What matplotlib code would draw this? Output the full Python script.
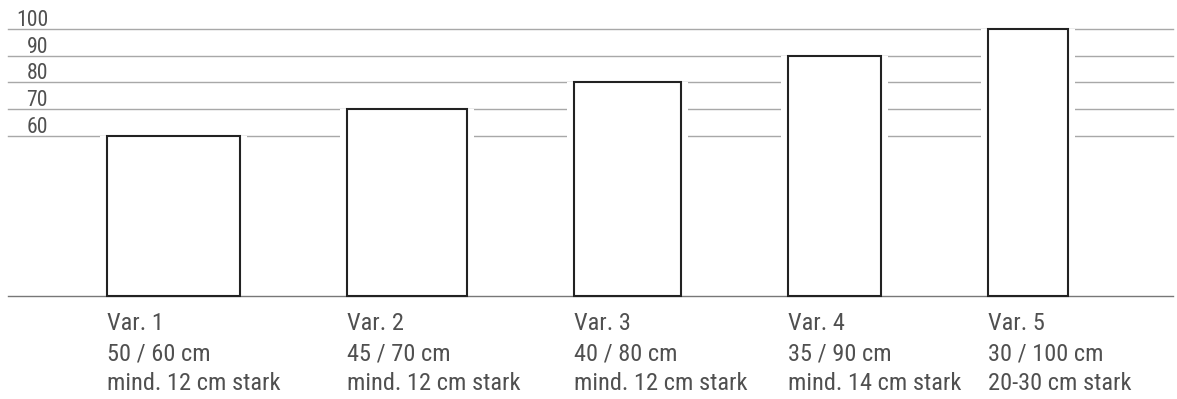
import matplotlib.pyplot as plt
from matplotlib.patches import Rectangle

# Querschnitte: Breite / Höhe in cm
varianten = ['Var. 1', 'Var. 2', 'Var. 3', 'Var. 4', 'Var. 5']
breite = [50, 45, 40, 35, 30]
hoehe = [60, 70, 80, 90, 100]
staerke = ['mind. 12 cm stark', 'mind. 12 cm stark', 'mind. 12 cm stark',
           'mind. 14 cm stark', '20-30 cm stark']
ticks = [60, 70, 80, 90, 100]

plt.rcParams['font.family'] = ['Roboto Condensed', 'Liberation Sans Narrow',
                               'Roboto', 'DejaVu Sans']
textfarbe = '#505050'

px = 2.67  # Pixel pro cm
W, H = 1177, 399
fig = plt.figure(figsize=(W / 100, H / 100), dpi=100)
ax = fig.add_axes([0, 0, 1, 1])
ax.set_xlim(0, W / px)
ax.set_ylim(-103 / px, (H - 103) / px)
ax.axis('off')

abstand = 40
pad = 2.6
fs = 17.6

# Gitterlinien
for t in ticks:
    ax.plot([3, 439.3], [t, t], color='#a8a8a8', lw=1.0, zorder=1)
    ax.text(18, t + 1.1, str(t), ha='right', va='baseline',
            fontsize=15.7, color=textfarbe)

x = abstand
for name, b, h, s in zip(varianten, breite, hoehe, staerke):
    ax.add_patch(Rectangle((x - pad, 0), b + 2 * pad, h, facecolor='white',
                           edgecolor='none', zorder=2))
    ax.add_patch(Rectangle((x, 0), b, h, facecolor='white',
                           edgecolor='#222222', lw=1.5, zorder=4))
    ax.text(x, -12.7, name, ha='left', va='baseline', fontsize=fs, color=textfarbe)
    ax.text(x, -24.0, f'{b} / {h} cm', ha='left', va='baseline', fontsize=fs,
            color=textfarbe)
    ax.text(x, -35.2, s, ha='left', va='baseline', fontsize=fs, color=textfarbe)
    x += b + abstand

# Grundlinie
ax.plot([3, 439.3], [0, 0], color='#777777', lw=1.0, zorder=3)

fig.savefig('out.png', dpi=100)
